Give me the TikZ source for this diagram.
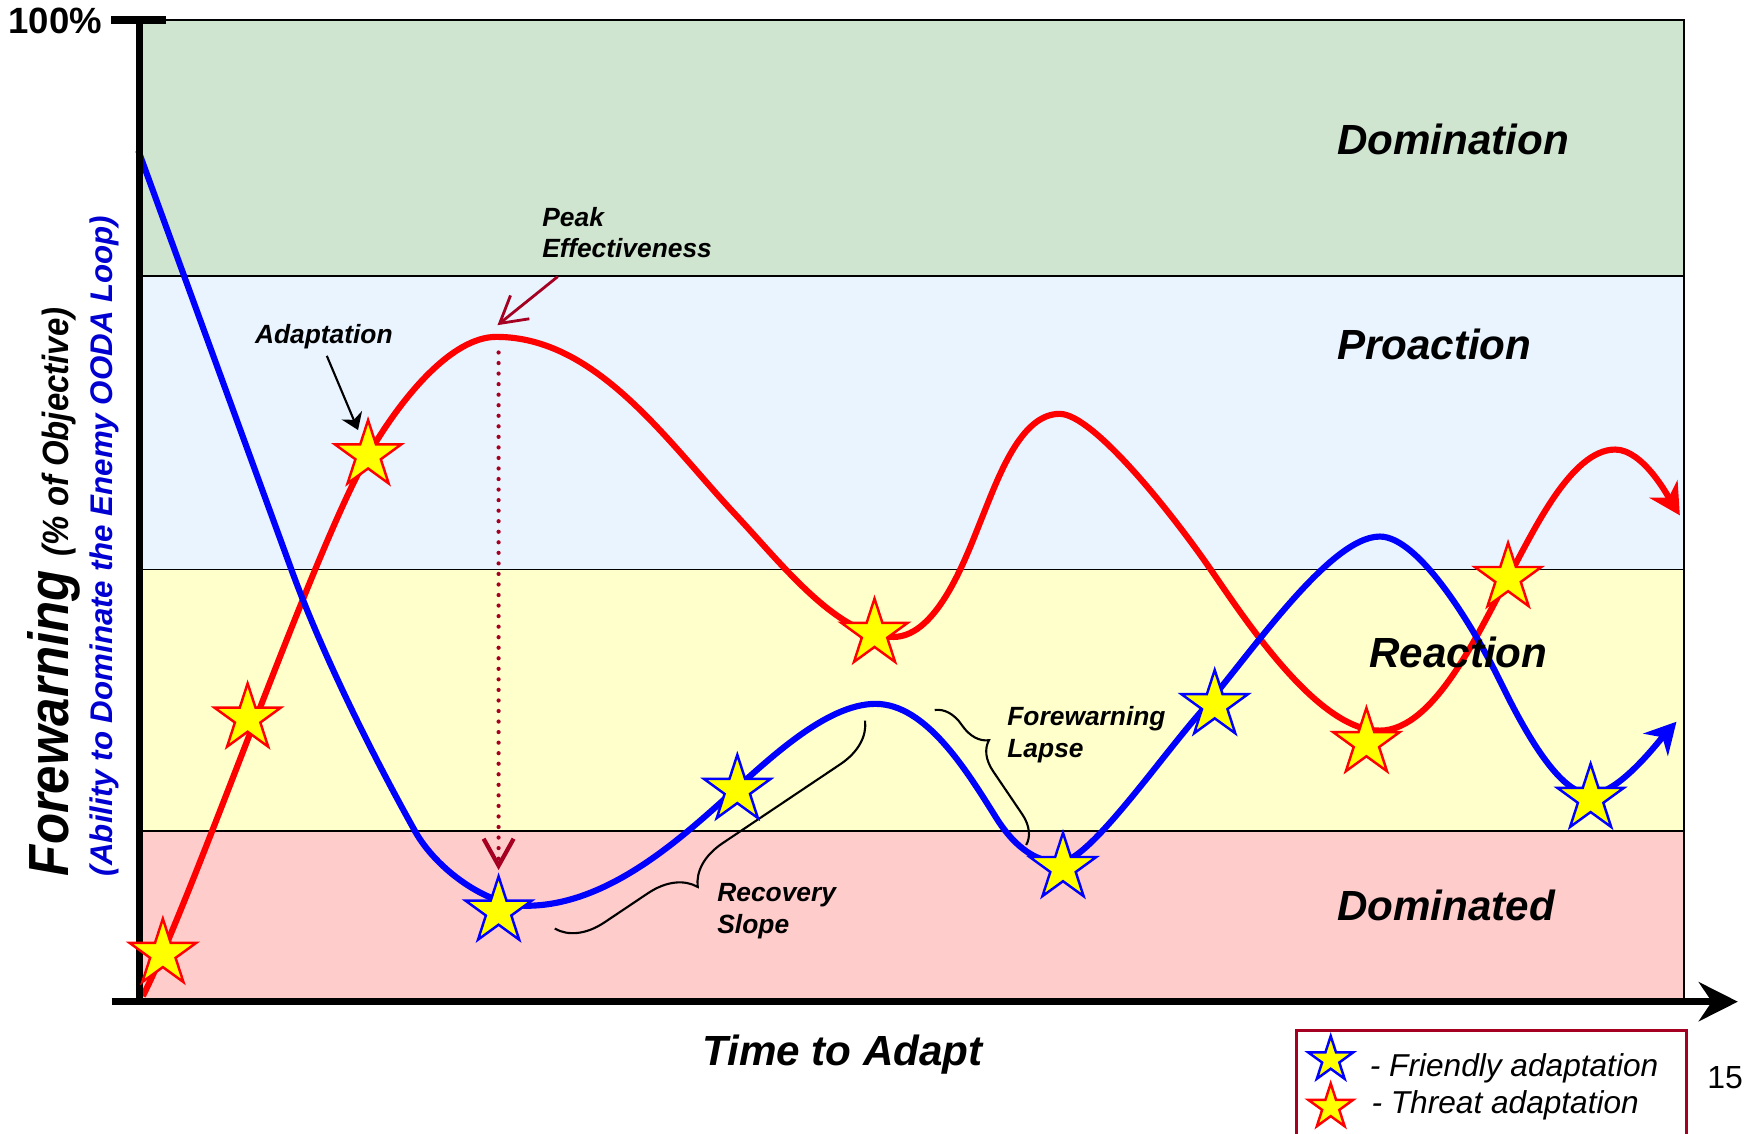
\documentclass[tikz,border=0pt]{standalone}
\usepackage{fontspec}
\setmainfont{Liberation Sans}
\usetikzlibrary{arrows.meta,shapes.geometric,decorations.pathreplacing}

\definecolor{bandgreen}{RGB}{207,229,207}
\definecolor{bandblue}{RGB}{234,244,255}
\definecolor{bandyellow}{RGB}{255,255,204}
\definecolor{bandpink}{RGB}{255,204,204}
\definecolor{darkred}{RGB}{165,0,33}
\definecolor{threatred}{RGB}{255,0,0}
\definecolor{friendblue}{RGB}{0,0,255}
\definecolor{labelblue}{RGB}{0,0,210}
\definecolor{staryellow}{RGB}{255,255,0}

\begin{document}
\begin{tikzpicture}[x=0.011154cm,y=-0.011154cm,
  band/.style={draw=black,line width=0.5pt},
  axisline/.style={line width=2pt,black},
  threat/.style={threatred,line width=1.75pt,line join=round},
  friendly/.style={friendblue,line width=1.75pt,line join=round},
  curvetip/.style={-{Stealth[length=0.31cm,width=0.33cm,inset=0.1cm]}},
  starbase/.style={star,star points=5,star point ratio=2.618,inner sep=0pt,
                   outer sep=0pt,fill=staryellow,line width=0.7pt},
  tstar/.style={starbase,draw=threatred,minimum size=0.70cm},
  fstar/.style={starbase,draw=friendblue,minimum size=0.70cm},
  zone/.style={font=\fontsize{12}{14}\selectfont\bfseries\itshape,inner sep=0pt,anchor=base west},
  note/.style={font=\fontsize{7.5}{9}\selectfont\bfseries\itshape,inner sep=0pt,anchor=base west},
  legendtext/.style={font=\fontsize{9}{11}\selectfont\itshape,inner sep=0pt,anchor=base west},
  bracket/.style={decorate,line width=0.6pt,black}
]
\useasboundingbox (0,0) rectangle (1568,1016);
\fill[white] (0,0) rectangle (1568,1016);

% zones
\draw[band,fill=bandgreen]  (125,18)    rectangle (1510,247.5);
\draw[band,fill=bandblue]   (125,247.5) rectangle (1510,510.5);
\draw[band,fill=bandyellow] (125,510.5) rectangle (1510,745);
\draw[band,fill=bandpink]   (125,745)   rectangle (1510,898);

% threat curve (cubic pieces joined with matching tangents)
\draw[threat,curvetip] (128,893)
  .. controls (173.4,803.9) and (280,494.6)   .. (330,408)
  .. controls (360,356)     and (405,302)     .. (445,302)
  .. controls (535,302)     and (598.5,396.3) .. (660,462)
  .. controls (701,505.8)   and (751,571)     .. (801,571)
  .. controls (841,571)     and (866.9,497.4) .. (880,465)
  .. controls (895,427.9)   and (915,371)     .. (950,371)
  .. controls (980,371)     and (1050.9,460.6).. (1085,510)
  .. controls (1119,559.4)  and (1182,655)    .. (1237,655)
  .. controls (1287,655)    and (1327.8,561.3).. (1352,518)
  .. controls (1373.8,478.6)and (1408,403)    .. (1448,403)
  .. controls (1473,403)    and (1495.4,445)  .. (1506,462);

% friendly curve
\draw[friendly,curvetip] (124,135) -- (261,510)
  .. controls (288.4,585.1) and (333,675.2)   .. (372,745)
  .. controls (391.5,779.9) and (437,812)     .. (472,812)
  .. controls (542,812)     and (605.4,756.1) .. (650,716)
  .. controls (687.2,682.6) and (740,631)     .. (785,631)
  .. controls (830,631)     and (866.5,690.6) .. (893,733)
  .. controls (906.3,754.2) and (925,773)     .. (950,773)
  .. controls (975,773)     and (1035.8,685.4).. (1075,640)
  .. controls (1120.7,587)  and (1192,481)    .. (1237,481)
  .. controls (1272,481)    and (1320.8,561.6).. (1345,611)
  .. controls (1362.6,646.9)and (1396,712)    .. (1426,712)
  .. controls (1451,712)    and (1486.2,665.5).. (1503,647);

% axes
\coordinate (yaxtop) at (125,18);
\coordinate (yaxbot) at (125,898);
\coordinate (xaxleft) at (100,898);
\coordinate (xaxright) at (1558,898);
\coordinate (tickleft) at (99.5,18);
\coordinate (tickright) at (149,18);
\draw[axisline] (yaxbot) -- (yaxtop);
\draw[line width=2.3pt] (tickleft) -- (tickright);
\draw[axisline,-{Stealth[length=0.39cm,width=0.39cm,inset=0.13cm]}] (xaxleft) -- (xaxright);

% peak effectiveness marker
\coordinate (peaktop) at (447,316);
\coordinate (peakbot) at (447,780);
\draw[darkred,line width=1.2pt,line cap=round,dash pattern=on 0pt off 3pt,
      -{Straight Barb[length=0.27cm,width=0.30cm]}] (peaktop) -- (peakbot);
\coordinate (pkfrom) at (500,248);
\coordinate (pkto) at (446,291.5);
\draw[darkred,line width=0.8pt,-{Straight Barb[length=0.26cm,width=0.30cm]}] (pkfrom) -- (pkto);

% adaptation pointer
\coordinate (adfrom) at (293,319);
\coordinate (adto) at (321,385.5);
\draw[black,line width=0.6pt,-{Stealth[length=0.16cm,width=0.22cm,inset=0.05cm]}] (adfrom) -- (adto);

% braces
\coordinate (recA) at (775.5,646);
\coordinate (recB) at (496.6,833);
\draw[bracket,decoration={brace,amplitude=0.45cm,aspect=0.62}] (recA) -- (recB);
\coordinate (lapU) at (838,636.5);
\coordinate (lapL) at (920,757.6);
\draw[bracket,decoration={brace,amplitude=0.28cm,aspect=0.34}] (lapU) -- (lapL);

% adaptation stars
\node[tstar] (t1) at (146,855) {};
\node[tstar] (t2) at (222,644) {};
\node[tstar] (t3) at (330,408) {};
\node[tstar] (t4) at (784,568) {};
\node[tstar] (t5) at (1225,666) {};
\node[tstar] (t6) at (1352,518) {};
\node[fstar] (f1) at (447,817) {};
\node[fstar] (f2) at (661,708) {};
\node[fstar] (f3) at (953,778) {};
\node[fstar] (f4) at (1089,632) {};
\node[fstar] (f5) at (1426,716) {};

% zone names
\node[zone] (zdom) at (1198,138.5) {Domination};
\node[zone] (zpro) at (1198,322.5) {Proaction};
\node[zone] (zrea) at (1227,598) {Reaction};
\node[zone] (zdmd) at (1198,825.5) {Dominated};

% annotations
\node[note] (pk1) at (485.6,203) {Peak};
\node[note] (pk2) at (485.6,231) {Effectiveness};
\node[note] (adl) at (228,307.5) {Adaptation};
\node[note] (rc1) at (642.5,808.4) {Recovery};
\node[note] (rc2) at (642.5,836.8) {Slope};
\node[note] (fl1) at (902.5,650) {Forewarning};
\node[note] (fl2) at (902.5,679) {Lapse};

% axis titles
\node[inner sep=0pt,anchor=base west,font=\bfseries] (hundred) at (7,30)
  {\fontsize{10.4}{12}\selectfont 100\%};
\node[inner sep=0pt,anchor=base west,font=\bfseries\itshape] (xtitle) at (629,955)
  {\fontsize{12}{14}\selectfont Time to Adapt};
\node[inner sep=0pt,anchor=base west,rotate=90,font=\bfseries\itshape] (ytitle) at (61,786)
  {\scalebox{0.9}[1]{\fontsize{16.1}{18}\selectfont Forewarning
   \fontsize{10.4}{12}\selectfont(\% of Objective)}};
\node[inner sep=0pt,anchor=base west,rotate=90,font=\bfseries\itshape,text=labelblue] (ysub) at (101,786)
  {\fontsize{8.9}{10}\selectfont(Ability to Dominate the Enemy OODA Loop)};

% legend
\coordinate (lgA) at (1162,1020);
\coordinate (lgB) at (1162,924);
\coordinate (lgC) at (1512,924);
\coordinate (lgD) at (1512,1020);
\draw[darkred,line width=0.8pt] (lgA) -- (lgB) -- (lgC) -- (lgD);
\node[starbase,draw=friendblue,minimum size=0.473cm] (lgf) at (1193,950) {};
\node[starbase,draw=threatred,minimum size=0.473cm] (lgt) at (1193,992.5) {};
\node[legendtext] (lgft) at (1227.5,965) {- Friendly adaptation};
\node[legendtext] (lgtt) at (1229,998) {- Threat adaptation};

% page number
\node[inner sep=0pt,anchor=base west] (pageno) at (1530,975.5)
  {\fontsize{9.1}{11}\selectfont 15};
\end{tikzpicture}
\end{document}
